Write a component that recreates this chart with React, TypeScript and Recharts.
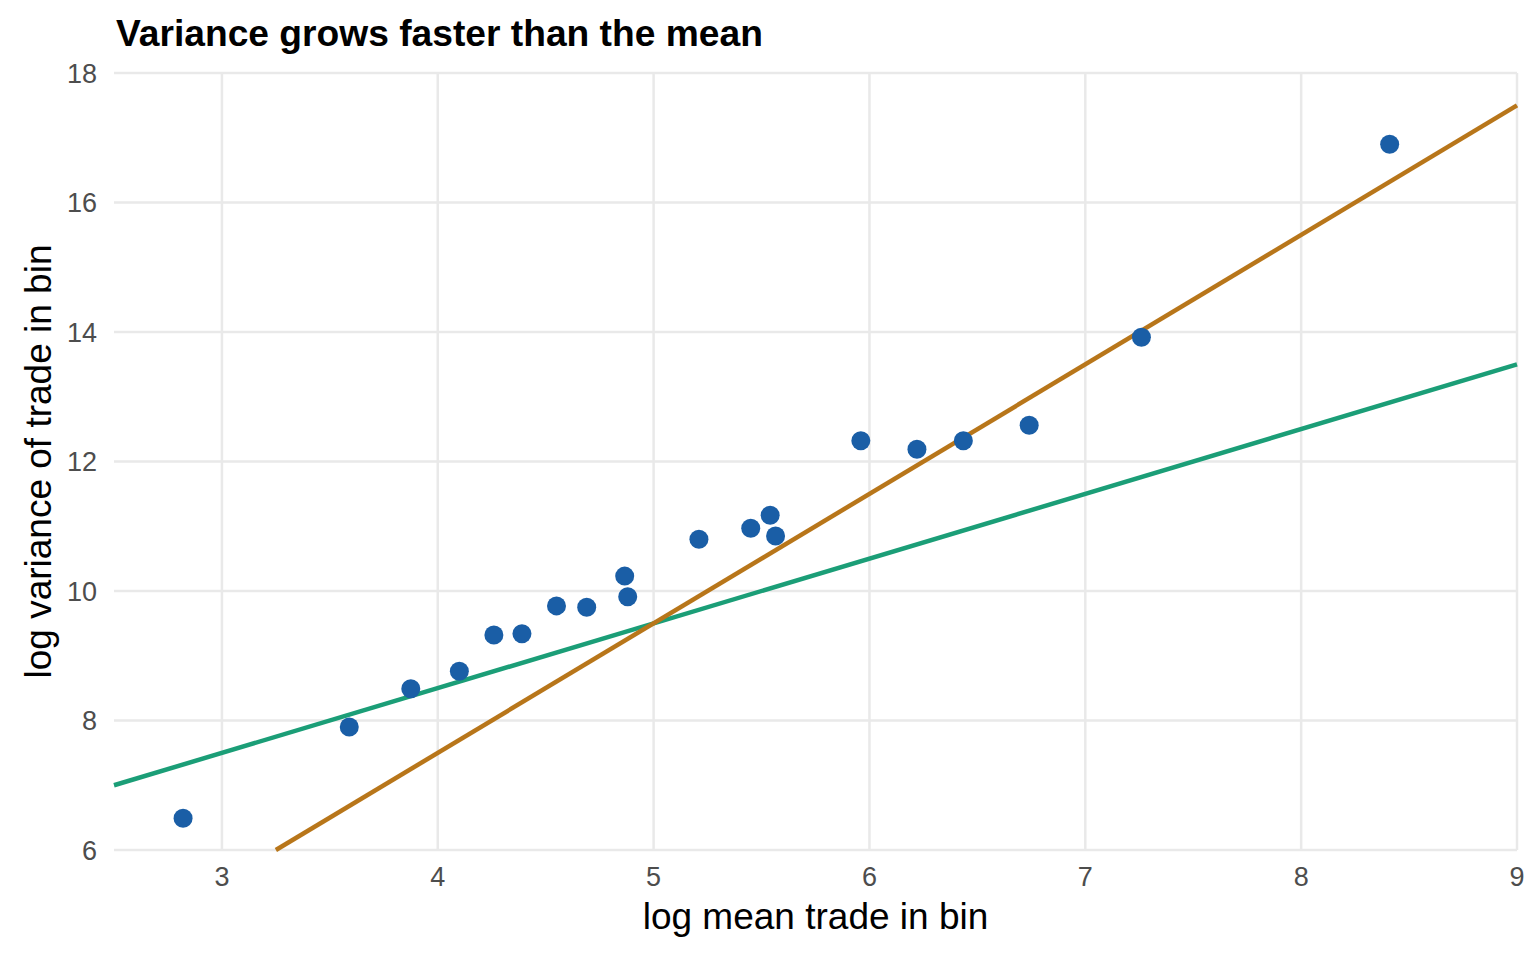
import React from "react";
import { ScatterChart, Scatter, XAxis, YAxis, CartesianGrid } from "recharts";

// binned trade data: log mean vs log variance
const logMean = [2.82, 3.59, 3.875, 4.1, 4.26, 4.39, 4.55, 4.69, 4.866, 4.88, 5.21, 5.45, 5.54, 5.565, 5.96, 6.22, 6.435, 6.74, 7.26, 8.41];
const logVar = [6.49, 7.9, 8.49, 8.76, 9.32, 9.34, 9.77, 9.75, 10.23, 9.91, 10.8, 10.97, 11.17, 10.85, 12.32, 12.19, 12.32, 12.56, 13.92, 16.9];

// reference lines (slope 1 = Poisson-like, slope 2 = fitted)
const slopeOneLine = [
  { x: 2.5, y: 7 },
  { x: 9, y: 13.5 },
];
const slopeTwoLine = [
  { x: 3.25, y: 6 },
  { x: 9, y: 17.5 },
];

const xDomain = [2.5, 9];
const xTicks = [3, 4, 5, 6, 7, 8, 9];
const yTicks = [6, 8, 10, 12, 14, 16, 18];

const FONT = "'Liberation Sans', Arial, Helvetica, sans-serif";
const BLUE = "#1a5ea6";
const GREEN = "#1b9e77";
const ORANGE = "#b8761a";
const GRID = "#e9e9e9";

const points = logMean.map((x, i) => ({ x, y: logVar[i] }));

const Dot = (props: any) => <circle cx={props.cx} cy={props.cy} r={9.5} fill={BLUE} />;
const NoDot = () => <g />;

// vertical grid only at the x ticks (no line at the left edge)
const verticalGrid = (p: any) => {
  const { left, width } = p.offset;
  return xTicks.map((t) => left + ((t - xDomain[0]) / (xDomain[1] - xDomain[0])) * width);
};

export default function App() {
  return (
    <div style={{ position: "absolute", left: 0, top: 0, width: 1536, height: 960, background: "#fff", fontFamily: FONT }}>
      <div
        style={{
          position: "absolute",
          left: 116,
          top: 12,
          fontSize: 37.2,
          fontWeight: 700,
          color: "#000",
          whiteSpace: "nowrap",
        }}
      >
        Variance grows faster than the mean
      </div>
      <ScatterChart width={1536} height={960} margin={{ top: 73, right: 19, bottom: 0, left: 0 }}>
        <CartesianGrid stroke={GRID} strokeWidth={2.5} verticalCoordinatesGenerator={verticalGrid} />
        <XAxis
          type="number"
          dataKey="x"
          domain={xDomain}
          ticks={xTicks}
          height={110}
          axisLine={false}
          tickLine={false}
          tickSize={6}
          tickMargin={11}
          tick={{ fontSize: 27, fill: "#4d4d4d", fontFamily: FONT }}
          label={{
            content: (p: any) => (
              <text
                x={p.viewBox.x + p.viewBox.width / 2}
                y={929}
                textAnchor="middle"
                fontSize={37}
                fontFamily={FONT}
                fill="#000"
              >
                log mean trade in bin
              </text>
            ),
          }}
        />
        <YAxis
          type="number"
          dataKey="y"
          domain={[6, 18]}
          ticks={yTicks}
          width={114}
          axisLine={false}
          tickLine={false}
          tickSize={6}
          tickMargin={11}
          tick={{ fontSize: 27, fill: "#4d4d4d", fontFamily: FONT }}
          label={{
            content: (p: any) => {
              const cy = p.viewBox.y + p.viewBox.height / 2;
              return (
                <text
                  x={38}
                  y={cy}
                  transform={`rotate(-90, 38, ${cy})`}
                  textAnchor="middle"
                  dominantBaseline="central"
                  fontSize={37}
                  fontFamily={FONT}
                  fill="#000"
                >
                  log variance of trade in bin
                </text>
              );
            },
          }}
        />
        <Scatter data={slopeOneLine} line={{ stroke: GREEN, strokeWidth: 4.5 }} shape={NoDot} isAnimationActive={false} />
        <Scatter data={slopeTwoLine} line={{ stroke: ORANGE, strokeWidth: 4.5 }} shape={NoDot} isAnimationActive={false} />
        <Scatter data={points} shape={Dot} isAnimationActive={false} />
      </ScatterChart>
    </div>
  );
}
